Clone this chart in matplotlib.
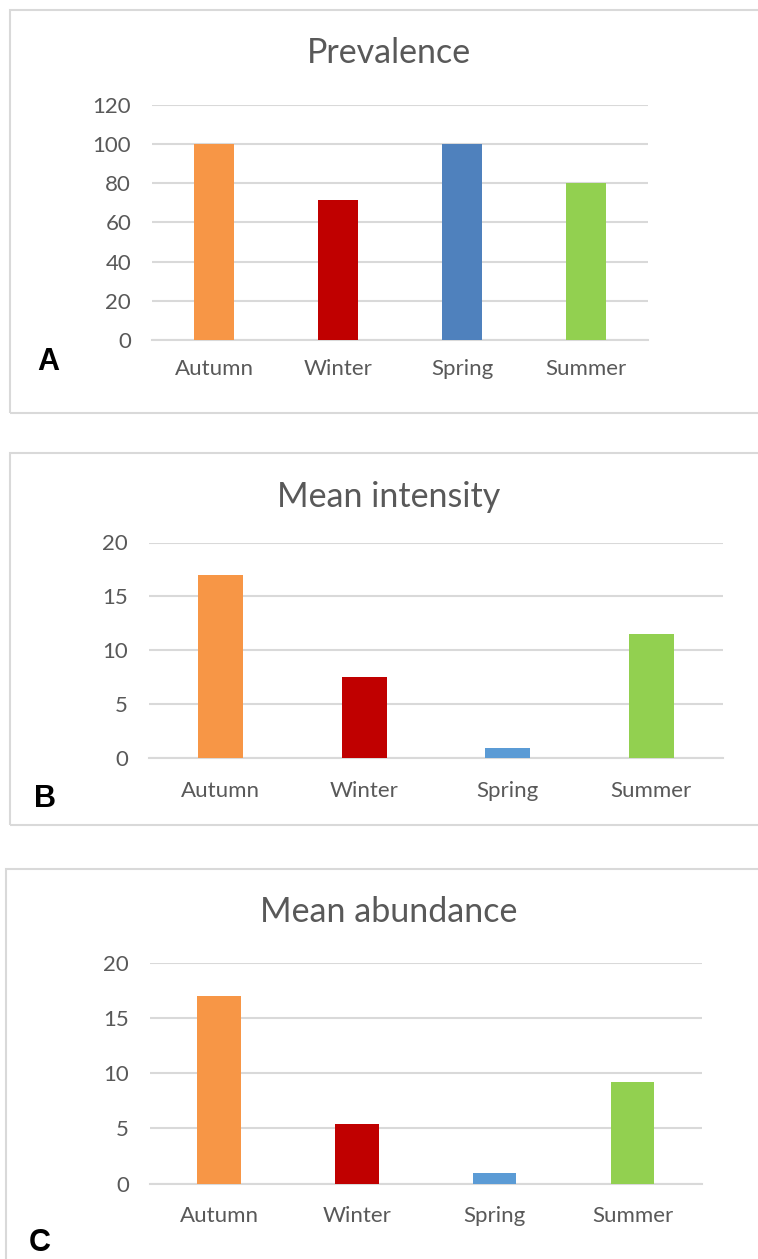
import matplotlib
matplotlib.use("Agg")
import matplotlib.pyplot as plt
from matplotlib.patches import Rectangle

# Seasonal data
seasons = ["Autumn", "Winter", "Spring", "Summer"]
prevalence = [100, 71.4, 100, 80]
mean_intensity = [17, 7.5, 0.95, 11.5]
mean_abundance = [17, 5.4, 0.95, 9.2]

colors_a = ["#F79646", "#C00000", "#4F81BD", "#92D050"]
colors_bc = ["#F79646", "#C00000", "#5B9BD5", "#92D050"]

W, H = 758, 1259
TXT = "#595959"
GRID = "#D9D9D9"

plt.rcParams["font.family"] = ["Lato", "DejaVu Sans"]

fig = plt.figure(figsize=(W / 100, H / 100), dpi=100)


def frame(x0, y0, x1, y1):
    # grey outline round each panel (pixel coords, y from top)
    r = Rectangle((x0 / W, 1 - y1 / H), (x1 - x0) / W, (y1 - y0) / H,
                  transform=fig.transFigure, fill=False,
                  edgecolor=GRID, linewidth=1.5)
    fig.add_artist(r)


def panel(box, values, colors, ymax, step, title, title_y, letter, letter_xy, xpad):
    x0, y0, x1, y1 = box
    ax = fig.add_axes([x0 / W, 1 - y1 / H, (x1 - x0) / W, (y1 - y0) / H])
    x = range(len(values))
    ax.bar(x, values, width=0.315, color=colors, zorder=3)
    ax.set_xlim(-0.5, len(values) - 0.5)
    ax.set_ylim(0, ymax)
    ax.set_yticks(range(0, ymax + 1, step))
    ax.set_xticks(list(x))
    ax.set_xticklabels(seasons)
    ax.yaxis.grid(True, color=GRID, linewidth=1.5, zorder=0)
    ax.set_axisbelow(True)
    for s in ["top", "right", "left"]:
        ax.spines[s].set_visible(False)
    ax.spines["bottom"].set_color(GRID)
    ax.spines["bottom"].set_linewidth(1.5)
    ax.tick_params(axis="y", length=0, pad=15, labelsize=16, labelcolor=TXT)
    ax.tick_params(axis="x", length=0, pad=xpad, labelsize=16, labelcolor=TXT)
    fig.text(389 / W, 1 - title_y / H, title, ha="center", va="center",
             fontsize=24.5, color=TXT)
    fig.text(letter_xy[0] / W, 1 - letter_xy[1] / H, letter, ha="center",
             va="center", fontsize=22, fontweight="bold",
             family="Liberation Sans", color="black")
    return ax


frame(10, 9.5, 770, 412.5)
frame(9.5, 452.7, 770, 825)
frame(5.7, 869, 770, 1275)

panel((152, 105.4, 648, 339.6), prevalence, colors_a, 120, 20,
      "Prevalence", 53, "A", (48, 362), 14)
panel((149, 542.5, 723, 758.3), mean_intensity, colors_bc, 20, 5,
      "Mean intensity", 497, "B", (45, 799), 16.5)
panel((150, 963, 701.5, 1183.6), mean_abundance, colors_bc, 20, 5,
      "Mean abundance", 912, "C", (40, 1243), 16)

fig.savefig("out.png", dpi=100, facecolor="white")
